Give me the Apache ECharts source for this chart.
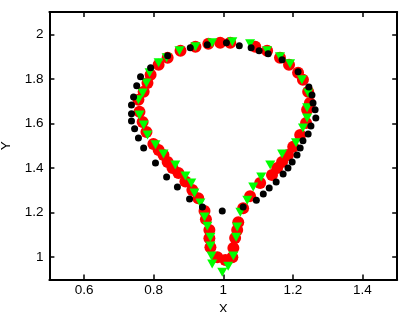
<!DOCTYPE html>
<html>
<head>
<meta charset="utf-8">
<script src="https://cdn.jsdelivr.net/npm/echarts@6/dist/echarts.min.js"></script>
<style>
html,body{margin:0;padding:0;background:#fff;}
#chart{width:415px;height:312px;}
</style>
</head>
<body>
<div id="chart"></div>
<script>
// Black asterisk series [x, y]
const blackSeries = [
  [0.940,1.225],[0.903,1.261],[0.868,1.315],[0.837,1.360],[0.805,1.423],[0.771,1.490],
  [0.756,1.535],[0.745,1.576],[0.736,1.611],[0.736,1.643],[0.736,1.683],[0.742,1.719],
  [0.751,1.769],[0.762,1.809],[0.791,1.850],[0.840,1.904],[0.905,1.940],[0.954,1.953],
  [1.009,1.962],[1.046,1.949],[1.080,1.940],[1.103,1.926],[1.129,1.913],[1.169,1.886],
  [1.215,1.832],[1.246,1.764],[1.255,1.728],[1.258,1.692],[1.264,1.661],[1.266,1.625],
  [1.252,1.589],[1.244,1.553],[1.229,1.522],[1.221,1.490],[1.212,1.459],[1.198,1.427],
  [1.186,1.400],[1.172,1.373],[1.152,1.337],[1.132,1.310],[1.115,1.283],[1.095,1.256],
  [1.057,1.225],[0.997,1.207]
];
// Red circle series [x, y]
const redSeries = [
  [1.006,0.987],[0.983,1.000],[0.963,1.045],[0.960,1.085],[0.960,1.122],[0.950,1.170],
  [0.946,1.207],[0.928,1.265],[0.911,1.301],[0.891,1.340],[0.871,1.378],[0.854,1.400],
  [0.840,1.427],[0.828,1.459],[0.814,1.481],[0.799,1.508],[0.779,1.562],[0.768,1.607],
  [0.759,1.652],[0.756,1.706],[0.771,1.742],[0.782,1.782],[0.791,1.818],[0.814,1.863],
  [0.840,1.895],[0.877,1.926],[0.920,1.944],[0.957,1.958],[0.991,1.962],[1.020,1.962],
  [1.092,1.944],[1.126,1.926],[1.163,1.895],[1.189,1.863],[1.215,1.827],[1.229,1.796],
  [1.244,1.742],[1.249,1.692],[1.241,1.661],[1.238,1.602],[1.221,1.548],[1.201,1.495],
  [1.186,1.459],[1.169,1.427],[1.155,1.400],[1.140,1.369],[1.106,1.333],[1.077,1.274],
  [1.057,1.220],[1.043,1.157],[1.040,1.122],[1.034,1.086],[1.029,1.041],[1.026,1.000]
];
// Green triangle series [x, y]
const greenSeries = [
  [0.997,0.933],[0.968,0.969],[0.966,1.005],[0.963,1.050],[0.963,1.090],[0.954,1.139],
  [0.946,1.180],[0.934,1.243],[0.917,1.288],[0.908,1.333],[0.891,1.364],[0.862,1.414],
  [0.828,1.463],[0.805,1.504],[0.782,1.548],[0.771,1.593],[0.759,1.638],[0.756,1.706],
  [0.768,1.737],[0.779,1.782],[0.788,1.827],[0.814,1.872],[0.837,1.895],[0.874,1.926],
  [0.920,1.944],[0.968,1.962],[1.026,1.966],[1.077,1.958],[1.126,1.926],[1.163,1.899],
  [1.192,1.868],[1.226,1.796],[1.244,1.737],[1.241,1.670],[1.241,1.625],[1.229,1.580],
  [1.209,1.513],[1.169,1.463],[1.135,1.414],[1.109,1.360],[1.086,1.315],[1.069,1.256],
  [1.049,1.202],[1.040,1.135],[1.037,1.090],[1.029,1.005],[1.014,0.960]
];
const xTicks = [0.6, 0.8, 1, 1.2, 1.4];
const yTicks = [1, 1.2, 1.4, 1.6, 1.8, 2];
const xRange = [0.5, 1.5];
const yRange = [0.9, 2.1];

const font = 'Liberation Sans, Arial, sans-serif';
const axisLine = {show: true, lineStyle: {color: '#000', width: 2}};
const tick = (vals) => ({show: true, inside: true, length: 5, customValues: vals, lineStyle: {color: '#000', width: 1.5}});

const chart = echarts.init(document.getElementById('chart'), null, {renderer: 'canvas'});
chart.setOption({
  animation: false,
  backgroundColor: '#fff',
  grid: {left: 49.4, right: 17.8, top: 12, bottom: 32.5, outerBoundsMode: 'none'},
  xAxis: [
    {type: 'value', min: xRange[0], max: xRange[1], position: 'bottom',
     name: 'X', nameLocation: 'middle', nameGap: 18,
     nameTextStyle: {fontFamily: font, fontSize: 13.5, color: '#000'},
     axisLine: axisLine, axisTick: tick(xTicks),
     axisLabel: {customValues: xTicks, margin: 4, fontFamily: font, fontSize: 13.5, color: '#000'},
     splitLine: {show: false}},
    {type: 'value', min: xRange[0], max: xRange[1], position: 'top',
     axisLine: axisLine, axisTick: tick(xTicks), axisLabel: {show: false}, splitLine: {show: false}}
  ],
  yAxis: [
    {type: 'value', min: yRange[0], max: yRange[1], position: 'left',
     name: 'Y', nameLocation: 'middle', nameGap: 36,
     nameTextStyle: {fontFamily: font, fontSize: 13.5, color: '#000'},
     axisLine: axisLine, axisTick: tick(yTicks),
     axisLabel: {customValues: yTicks, margin: 6, fontFamily: font, fontSize: 13.5, color: '#000'},
     splitLine: {show: false}},
    {type: 'value', min: yRange[0], max: yRange[1], position: 'right',
     axisLine: axisLine, axisTick: tick(yTicks), axisLabel: {show: false}, splitLine: {show: false}}
  ],
  series: [
    {type: 'scatter', data: redSeries, symbol: 'circle', symbolSize: 12,
     itemStyle: {color: '#ff0000', opacity: 1}, z: 2},
    {type: 'scatter', data: greenSeries, symbol: 'path://M0,0 L10,0 L5,9 Z', symbolSize: [10, 9],
     itemStyle: {color: '#00ff00', opacity: 1}, z: 3},
    {type: 'scatter', data: blackSeries, symbol: 'circle', symbolSize: 7,
     itemStyle: {color: '#000', opacity: 1}, z: 4}
  ]
});
</script>
</body>
</html>
